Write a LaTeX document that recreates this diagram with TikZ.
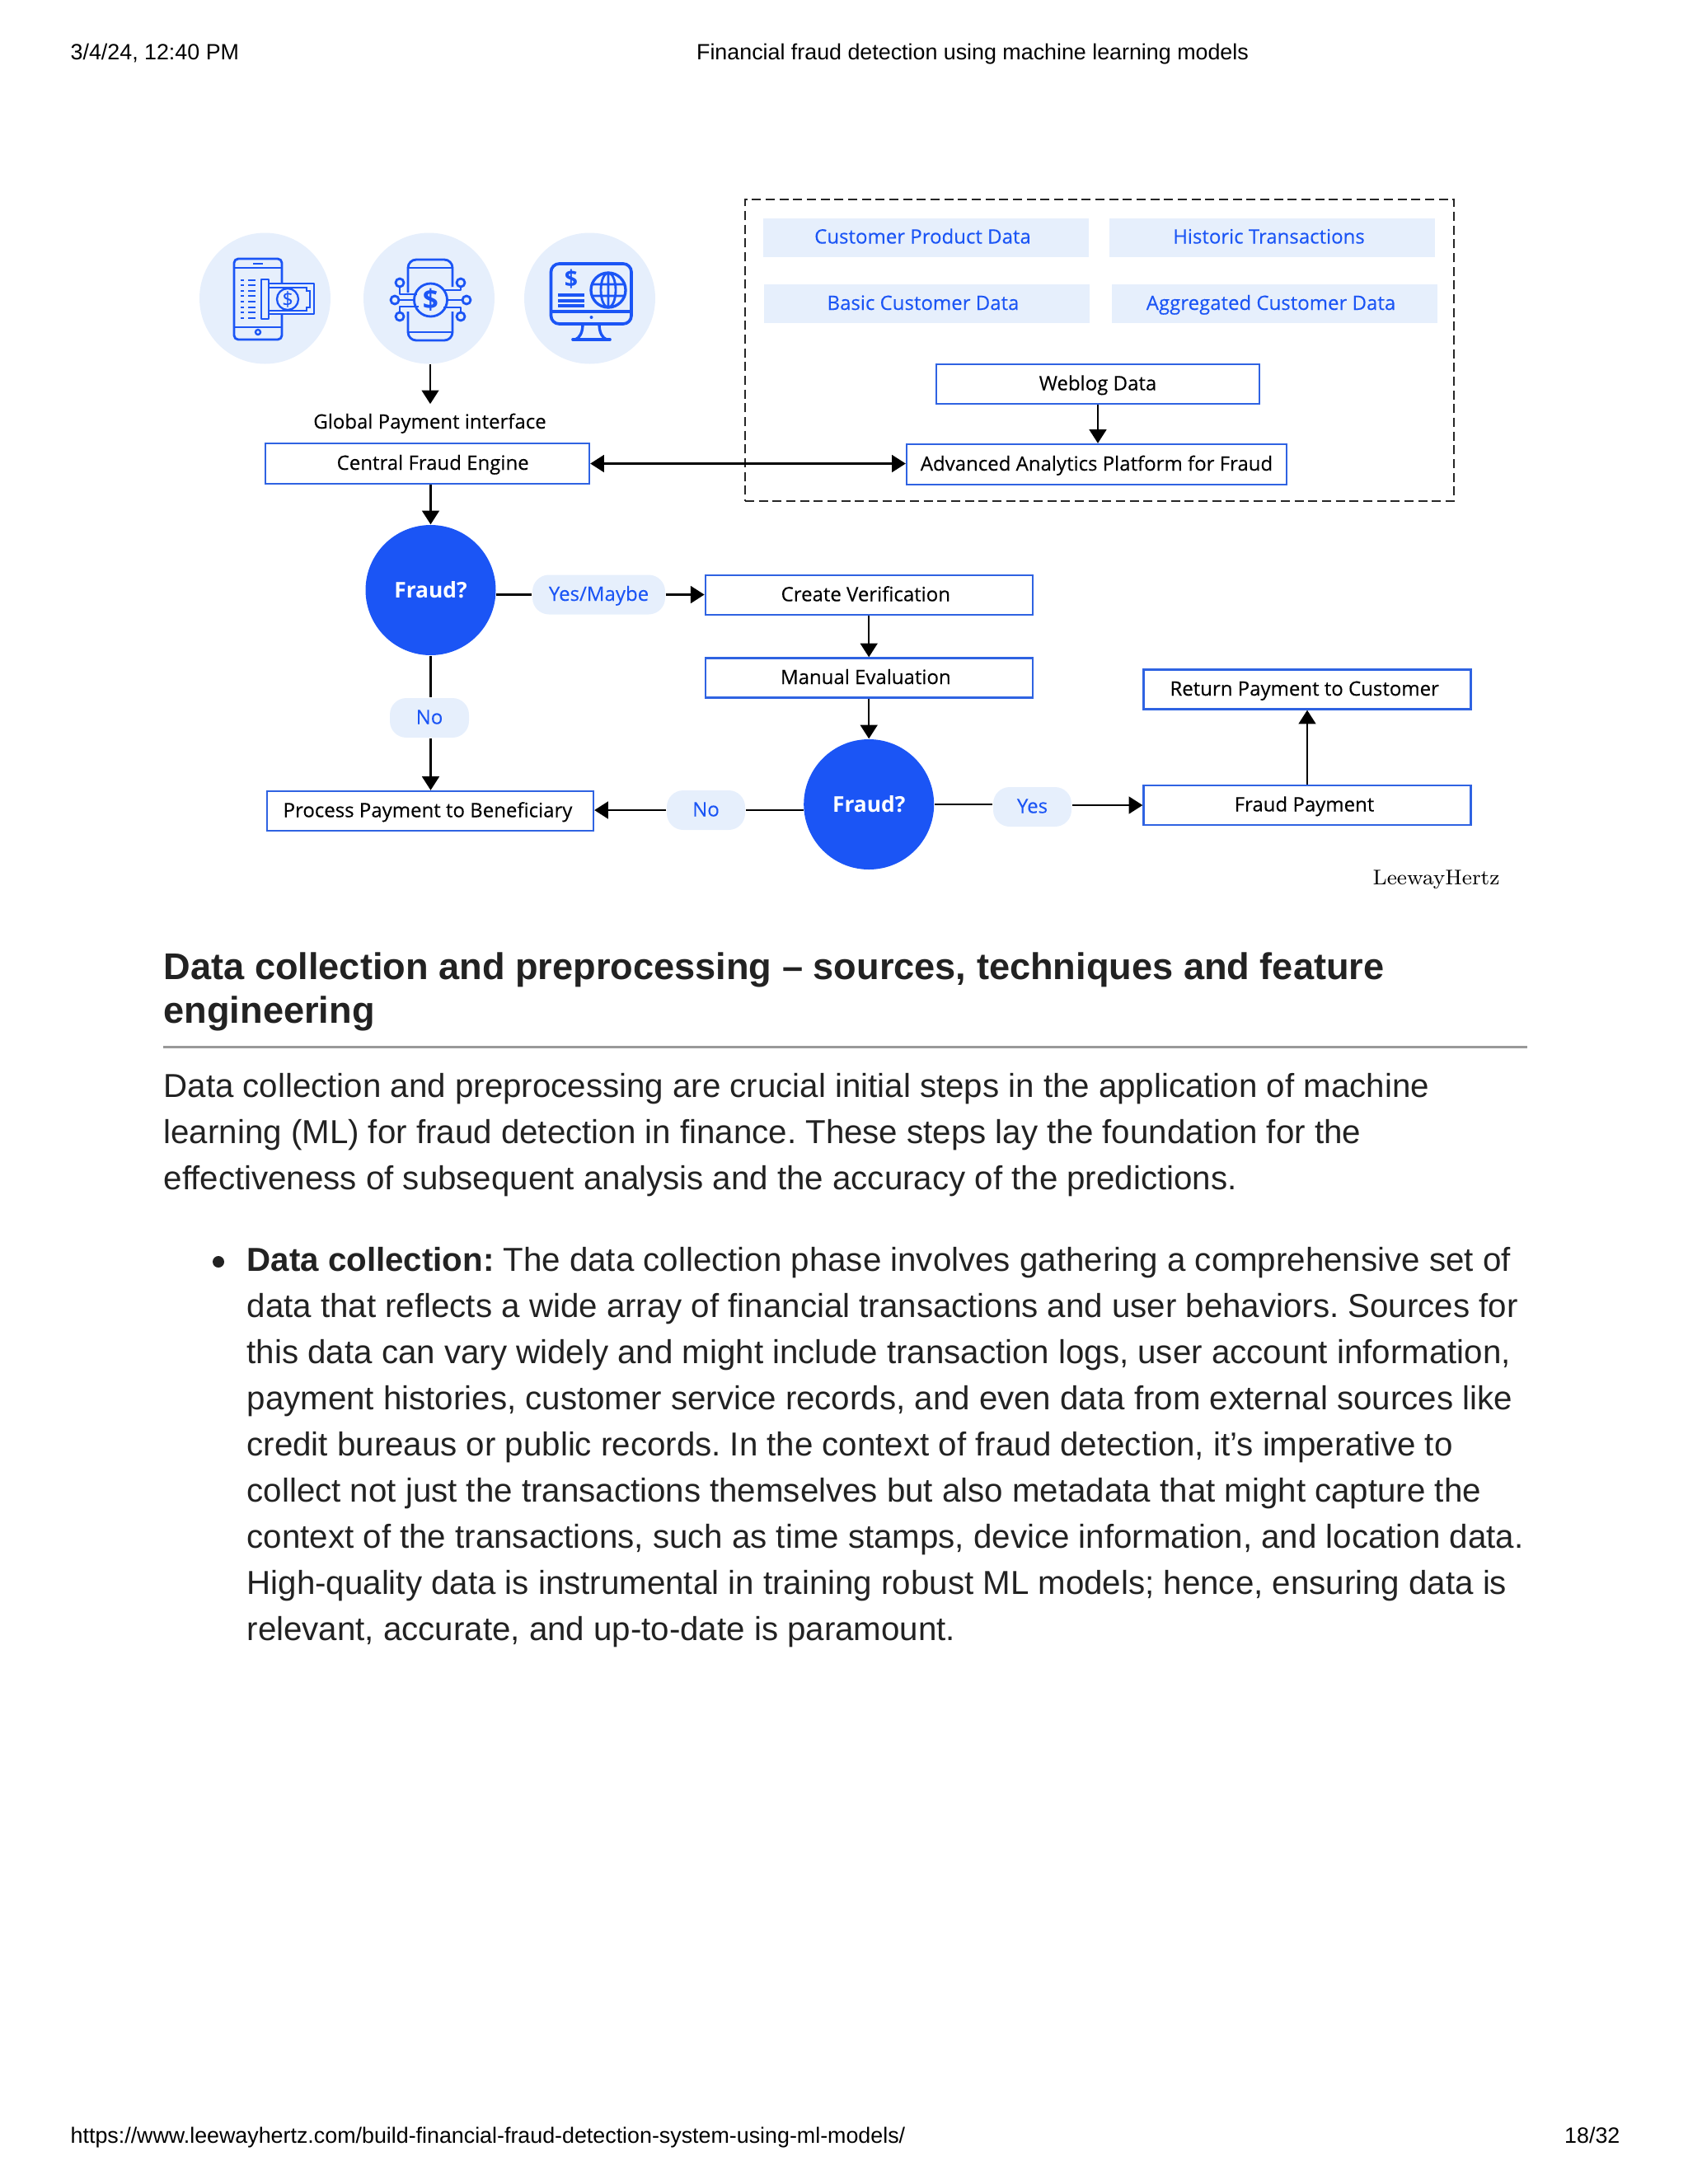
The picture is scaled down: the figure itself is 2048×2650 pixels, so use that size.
\documentclass[tikz,border=0pt]{standalone}
\usepackage{fontspec}
\newfontfamily\pagefont{Liberation Sans}
\newfontfamily\diagfont[FakeBold=0.2]{Open Sans}
\newfontfamily\diagbold{Open Sans}
\usetikzlibrary{arrows.meta,shapes.geometric,positioning}
\definecolor{brandblue}{HTML}{1B55F5}
\definecolor{boxblue}{HTML}{2F63E2}
\definecolor{paleblue}{HTML}{E6EFFC}
\definecolor{inktext}{HTML}{222222}
\tikzset{
    labelfont/.style={font=\diagfont\fontsize{7.2}{9}\selectfont, text height=6pt, text depth=1.5pt},
    flowbox/.style 2 args={draw=boxblue, line width=.7pt, fill=white, inner sep=0pt, minimum width=#1*0.3pt, minimum height=#2*0.3pt, labelfont},
    nudge/.style={execute at begin node={\kern#1pt}},
    databox/.style={fill=paleblue, text=brandblue, inner sep=0pt, minimum width=395*0.3pt, minimum height=47*0.3pt, labelfont, nudge=-2.4},
    pill/.style={fill=paleblue, text=brandblue, inner sep=0pt, rounded corners=6pt, minimum width=#1*0.3pt, minimum height=48*0.3pt, labelfont},
    decision/.style={circle, fill=brandblue, text=white, inner sep=0pt, minimum size=158*0.3pt, font=\diagbold\bfseries\fontsize{7.9}{10}\selectfont},
    halo/.style={circle, fill=paleblue, inner sep=0pt, minimum size=159*0.3pt},
    flow/.style={line width=.75pt, black},
    flowtip/.style={flow, -{Triangle[length=5pt,width=6.2pt]}},
    icon/.style={draw=brandblue, line width=.85pt, line join=round},
    iconthin/.style={draw=brandblue, line width=.7pt},
    pageline/.style={anchor=base west, inner sep=0pt, text=inktext, font=\pagefont\frenchspacing\fontsize{12.08}{16}\selectfont},
    headline/.style={anchor=base west, inner sep=0pt, text=inktext, font=\pagefont\frenchspacing\bfseries\fontsize{13.55}{16}\selectfont},
    margin/.style={inner sep=0pt, font=\pagefont\frenchspacing\fontsize{8.05}{10}\selectfont}
}

\begin{document}
\begin{tikzpicture}[x=0.3pt, y=-0.3pt]
    \useasboundingbox (0,0) rectangle (2048,2650);

    \node[margin, anchor=base west] (stamp) at (85,72.5) {3/4/24, 12:40 PM};
    \node[margin, anchor=base] (title) at (1180,72.5) {Financial fraud detection using machine learning models};

    \node[halo] (phonea) at (321.5,362) {};
    \node[halo] (phoneb) at (520.5,362) {};
    \node[halo] (screen) at (715.5,362) {};

    \draw[icon, rounded corners=1.5pt] (284,314) rectangle (342,412);
    \draw[iconthin] (284,325) -- (342,325) (284,397) -- (342,397) (307,320) -- (319,320);
    \draw[iconthin] (313,403) circle (3);
    \foreach \yrow in {340,346,353,359,366,373,379,386} {
        \draw[iconthin] (292,\yrow) -- (296,\yrow) (301,\yrow) -- (310,\yrow);
    }
    \draw[icon, fill=paleblue] (317,339) rectangle (326,387);
    \draw[icon, fill=paleblue] (326,344) rectangle (381,381);
    \draw[iconthin] (326,349) -- (372,349) -- (372,353) -- (376,353) -- (376,373) -- (372,373) -- (372,377) -- (326,377);
    \draw[iconthin] (349,363) circle (13);
    \node[text=brandblue, font=\diagfont\fontsize{7}{8}\selectfont] (notesign) at (349,363) {\$};

    \draw[icon, rounded corners=3pt] (495,355) -- (495,315) -- (549,315) -- (549,348);
    \draw[icon, rounded corners=3pt] (495,378) -- (495,413) -- (549,413) -- (549,378);
    \draw[iconthin] (495,325) -- (549,325) (495,403) -- (549,403);
    \draw[icon] (522.5,364) circle (20);
    \node[text=brandblue, font=\diagbold\bfseries\fontsize{10}{12}\selectfont] (chipsign) at (522.5,364) {\$};
    \draw[icon] (479,364) circle (5) (566,364) circle (5);
    \draw[icon] (485,343) circle (5) (559,343) circle (5) (485,384) circle (5) (559,384) circle (5);
    \draw[icon] (484,364) -- (502,364) (561,364) -- (543,364);
    \draw[icon] (485,348) -- (485,357) -- (506,357);
    \draw[icon] (559,348) -- (559,352) -- (539,352);
    \draw[icon] (485,379) -- (485,372) -- (508,372);
    \draw[icon] (559,379) -- (559,373) -- (538,373);

    \draw[icon, line width=1.1pt, rounded corners=3pt] (668.5,320) rectangle (766,393);
    \draw[icon, line width=1.1pt] (668.5,378) -- (766,378);
    \fill[brandblue] (717.5,385) circle (2);
    \draw[icon, line width=1pt] (707,393) .. controls (707,404) and (703,410) .. (698,412);
    \draw[icon, line width=1pt] (727,393) .. controls (727,404) and (731,410) .. (736,412);
    \draw[icon, line width=1.1pt, line cap=round] (695,412) -- (740,412);
    \node[text=brandblue, font=\diagbold\bfseries\fontsize{8.5}{10}\selectfont] (screensign) at (693,339) {\$};
    \draw[icon, line width=1pt] (677,358) -- (709,358) (677,365) -- (709,365) (677,371) -- (709,371);
    \draw[icon, line width=1pt] (738,352) circle (21);
    \draw[icon] (738,352) ellipse (9 and 21) (717,345) -- (759,345) (717,359) -- (759,359) (738,331) -- (738,373);

    \node[labelfont, inner sep=0pt, text height=, text depth=, anchor=base] (gateway) at (521.5,520) {Global Payment interface};
    \node[flowbox={393}{49}, nudge=4] (central) at (518.5,562.5) {Central Fraud Engine};
    \draw[flowtip] (phoneb.south) ++(1.5,0) -- ++(0,48);

    \node[draw=black!85, dash pattern=on 3.3pt off 1.7pt, line width=.5pt, inner sep=0pt, minimum width=860*0.3pt, minimum height=366*0.3pt] (platform) at (1334,425) {};
    \node[databox] (product) at (1123.5,288) {Customer Product Data};
    \node[databox] (historic) at (1543.5,288) {Historic Transactions};
    \node[databox] (basic) at (1124,368.5) {Basic Customer Data};
    \node[databox] (aggregated) at (1546,368.5) {Aggregated Customer Data};
    \node[flowbox={392}{48}] (weblog) at (1332,466) {Weblog Data};
    \node[flowbox={461}{49}] (analytics) at (1330.5,563.5) {Advanced Analytics Platform for Fraud};
    \draw[flowtip] (weblog.south) -- (weblog.south |- analytics.north);
    \draw[flow, {Triangle[length=5pt,width=6.2pt]}-{Triangle[length=5pt,width=6.2pt]}] (central.east) -- (central.east -| analytics.west);

    \node[decision] (frauda) at (522.5,716) {Fraud?};
    \node[pill=161] (maybe) at (726.5,721.5) {Yes/Maybe};
    \node[flowbox={397}{48}, nudge=-2.4] (verify) at (1054.3,722) {Create Verification};
    \node[flowbox={397}{48}, nudge=-2.4] (manual) at (1054.3,822.5) {Manual Evaluation};
    \node[pill=96] (noa) at (521,871) {No};
    \node[flowbox={396}{48}, nudge=-1.8] (process) at (522,984) {Process Payment to Beneficiary};
    \node[decision] (fraudb) at (1054.2,976) {Fraud?};
    \node[pill=95] (nob) at (856.5,983) {No};
    \node[pill=95] (yes) at (1252.5,979) {Yes};
    \node[flowbox={397}{48}, nudge=-2.1] (payment) at (1586,977) {Fraud Payment};
    \node[flowbox={397}{48}, nudge=-2] (refund) at (1586,836.5) {Return Payment to Customer};

    \draw[flowtip] (central.south -| frauda) -- (frauda.north);
    \draw[flow] (frauda.east |- maybe) -- (maybe.west);
    \draw[flowtip] (maybe.east) -- (verify.west |- maybe);
    \draw[flowtip] (verify.south -| fraudb) -- (manual.north -| fraudb);
    \draw[flowtip] (manual.south -| fraudb) -- (fraudb.north);
    \draw[flow] (frauda.south) -- (noa.north -| frauda);
    \draw[flowtip] (noa.south -| frauda) -- (process.north -| frauda);
    \draw[flow] (fraudb.west |- nob) -- (nob.east);
    \draw[flowtip] (nob.west) -- (process.east |- nob);
    \draw[flow] (fraudb.east) -- (yes.west |- fraudb.east);
    \draw[flowtip] (yes.east |- payment) -- (payment.west);
    \draw[flowtip] (payment.north) -- (refund.south);

    \node[font=\fontsize{7.72}{10}\selectfont, inner sep=0pt, anchor=base west] (logo) at (1665,1073) {LeewayHertz};

    \node[headline] (heading) at (198,1188) {Data collection and preprocessing – sources, techniques and feature};
    \node[headline] (headingb) at (198,1241.7) {engineering};
    \draw[draw=black!40, line width=.9pt] (198,1270) -- (1852.7,1270);

    \node[pageline] (introa) at (198,1331) {Data collection and preprocessing are crucial initial steps in the application of machine};
    \node[pageline] (introb) at (198,1387) {learning (ML) for fraud detection in finance. These steps lay the foundation for the};
    \node[pageline] (introc) at (198,1443) {effectiveness of subsequent analysis and the accuracy of the predictions.};

    \fill[inktext] (265,1531) circle (7);
    \node[pageline] (dataa) at (299,1542.7) {\textbf{Data collection:} The data collection phase involves gathering a comprehensive set of};
    \node[pageline] (datab) at (299,1598.6) {data that reflects a wide array of financial transactions and user behaviors. Sources for};
    \node[pageline] (datac) at (299,1654.6) {this data can vary widely and might include transaction logs, user account information,};
    \node[pageline] (datad) at (299,1710.5) {payment histories, customer service records, and even data from external sources like};
    \node[pageline] (datae) at (299,1766.5) {credit bureaus or public records. In the context of fraud detection, it’s imperative to};
    \node[pageline] (dataf) at (299,1822.4) {collect not just the transactions themselves but also metadata that might capture the};
    \node[pageline] (datag) at (299,1878.3) {context of the transactions, such as time stamps, device information, and location data.};
    \node[pageline] (datah) at (299,1934.3) {High-quality data is instrumental in training robust ML models; hence, ensuring data is};
    \node[pageline] (datai) at (299,1990.2) {relevant, accurate, and up-to-date is paramount.};

    \node[margin, anchor=base west] (url) at (85,2600) {https://www.leewayhertz.com/build-financial-fraud-detection-system-using-ml-models/};
    \node[margin, anchor=base east] (page) at (1966,2600) {18/32};
\end{tikzpicture}
\end{document}
